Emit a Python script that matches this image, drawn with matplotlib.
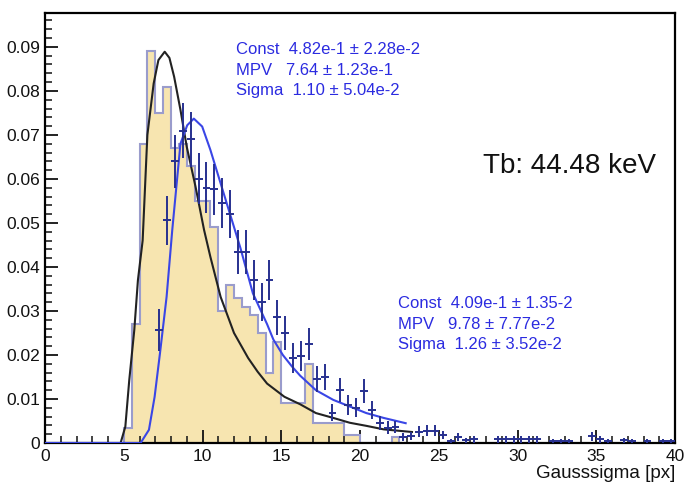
import numpy as np
import matplotlib
matplotlib.use("Agg")
import matplotlib.pyplot as plt

plt.rcParams['font.family'] = ['Liberation Sans', 'DejaVu Sans']

# histogramme (bins de 0.5 a partir de 5.0)
hist_start = 5.0
hist_width = 0.5
hist_vals = [0.0035, 0.027, 0.068, 0.089, 0.075, 0.081, 0.067, 0.068, 0.063,
             0.055, 0.055, 0.049, 0.030, 0.036, 0.033, 0.031, 0.029, 0.025,
             0.016, 0.023, 0.009, 0.009, 0.009, 0.018, 0.0045, 0.0045, 0.0045,
             0.0045, 0.0018, 0.0018, 0.0, 0.0, 0.0, 0.0, 0.0014, 0.0]

# points avec erreurs
pts_x = [7.25, 7.75, 8.25, 8.75, 9.25, 9.75, 10.25, 10.75, 11.25, 11.75,
         12.25, 12.75, 13.25, 13.75, 14.25, 14.75, 15.25, 15.75, 16.25, 16.75,
         17.25, 17.75, 18.25, 18.75, 19.25, 19.75, 20.25, 20.75, 21.25, 21.75,
         22.25, 22.75, 23.25, 23.75, 24.25, 24.75, 25.25, 25.75, 26.25, 26.75,
         27.25, 28.75, 29.25, 29.75, 30.25, 30.75, 31.25, 32.25, 32.75, 33.25,
         34.75, 35.25, 35.75, 36.75, 37.25, 38.25, 39.25, 39.75]
pts_y = [0.0257, 0.0506, 0.064, 0.071, 0.069, 0.060, 0.058, 0.0577, 0.0545, 0.052,
         0.0435, 0.0435, 0.037, 0.032, 0.037, 0.0286, 0.025, 0.0193, 0.0198, 0.0225,
         0.0145, 0.015, 0.0069, 0.012, 0.0086, 0.008, 0.0118, 0.0075, 0.0045, 0.0035,
         0.0036, 0.0014, 0.0015, 0.0026, 0.0028, 0.0028, 0.0018, 0.0005, 0.0014, 0.0006,
         0.0008, 0.0008, 0.0008, 0.0008, 0.0008, 0.0008, 0.0008, 0.0005, 0.0005, 0.0005,
         0.0015, 0.0008, 0.0005, 0.0006, 0.0005, 0.0005, 0.0005, 0.0005]
pts_err = [0.0048, 0.0055, 0.0060, 0.0062, 0.0062, 0.0058, 0.0058, 0.0058, 0.0056, 0.0055,
           0.0050, 0.0050, 0.0046, 0.0043, 0.0046, 0.0040, 0.0038, 0.0034, 0.0034, 0.0036,
           0.0030, 0.0030, 0.0020, 0.0027, 0.0023, 0.0022, 0.0027, 0.0021, 0.0016, 0.0014,
           0.0014, 0.0009, 0.0009, 0.0012, 0.0013, 0.0013, 0.0010, 0.0005, 0.0009, 0.0006,
           0.0007, 0.0007, 0.0007, 0.0007, 0.0007, 0.0007, 0.0007, 0.0005, 0.0005, 0.0005,
           0.0010, 0.0007, 0.0005, 0.0006, 0.0005, 0.0005, 0.0005, 0.0005]

# courbe noire (fit du histogramme)
fit1_x = [0, 4.8, 5.1, 5.35, 5.67, 5.9, 6.2, 6.5, 6.9, 7.2, 7.6, 7.9, 8.2, 8.6,
          9.0, 9.56, 10.1, 10.5, 11.15, 12.0, 12.9, 13.5, 14.1, 15.2, 16.2, 17.2,
          18.3, 19.35, 20.4, 21.5, 22.4, 23.3]
fit1_y = [0, 0, 0.0037, 0.0143, 0.0257, 0.037, 0.046, 0.070, 0.0817, 0.087, 0.0889,
          0.0875, 0.0832, 0.0757, 0.0673, 0.0582, 0.0484, 0.0423, 0.0332, 0.025, 0.0193,
          0.0162, 0.0135, 0.0105, 0.0088, 0.0068, 0.0057, 0.0046, 0.0039, 0.0031,
          0.0028, 0.0025]

# courbe bleue (fit des points)
fit2_x = [0, 6.07, 6.6, 6.96, 7.3, 7.72, 8.08, 8.6, 9.03, 9.45, 9.98, 10.5, 11.15,
          11.8, 12.4, 13.2, 14.1, 14.5, 15.1, 15.7, 16.2, 17.2, 18.3, 19.35, 20.4,
          21.5, 22.9]
fit2_y = [0, 0, 0.003, 0.0105, 0.0204, 0.0332, 0.0484, 0.068, 0.0722, 0.0737, 0.0719,
          0.0666, 0.059, 0.0514, 0.0444, 0.034, 0.027, 0.0235, 0.020, 0.0173, 0.0153,
          0.012, 0.0098, 0.0083, 0.0068, 0.0057, 0.0045]

stats1 = ["Const  4.82e-1 \u00b1 2.28e-2", "MPV   7.64 \u00b1 1.23e-1",
          "Sigma  1.10 \u00b1 5.04e-2"]
stats2 = ["Const  4.09e-1 \u00b1 1.35-2", "MPV   9.78 \u00b1 7.77e-2",
          "Sigma  1.26 \u00b1 3.52e-2"]

W, H = 684, 484
fig = plt.figure(figsize=(W / 100, H / 100), dpi=100)
ax = fig.add_axes([45 / W, 1 - 443 / H, 630 / W, 430 / H])

edges = hist_start + hist_width * np.arange(len(hist_vals) + 1)
ax.stairs(hist_vals, edges, fill=True, color='#f7e5b0', zorder=1)
ax.stairs(hist_vals, edges, color='#9a9ccc', lw=1.5, zorder=2)

ax.plot(fit1_x, fit1_y, color='#222222', lw=1.5, zorder=3)
ax.plot(fit2_x, fit2_y, color='#3a46e6', lw=1.5, zorder=4)

ax.errorbar(pts_x, pts_y, yerr=pts_err, xerr=0.25, fmt='none',
            ecolor='#27308f', elinewidth=1.4, zorder=5)

ax.set_xlim(0, 40)
ax.set_ylim(0, 0.0977)
ax.set_xticks(np.arange(0, 41, 5))
ax.set_xticks(np.arange(0, 41, 1), minor=True)
ax.set_yticks(np.arange(0, 0.091, 0.01))
ax.set_yticks(np.arange(0, 0.097, 0.002), minor=True)
ax.set_yticklabels(['0', '0.01', '0.02', '0.03', '0.04', '0.05', '0.06', '0.07', '0.08', '0.09'])
ax.tick_params(which='both', direction='in', labelsize=12.5, colors='#111111')
ax.tick_params(which='major', length=9.5, width=1.3)
ax.tick_params(which='minor', length=4.8, width=1.1)
ax.tick_params(axis='x', pad=4)
for s in ax.spines.values():
    s.set_linewidth(1.6)

for i, t in enumerate(stats1):
    fig.text(236 / W, 1 - (50 + 20.5 * i) / H, t, color='#2b2be0', fontsize=12,
             va='center', ha='left')
for i, t in enumerate(stats2):
    fig.text(398 / W, 1 - (304 + 20.5 * i) / H, t, color='#2b2be0', fontsize=12,
             va='center', ha='left')

fig.text(483 / W, 1 - 166 / H, "Tb: 44.48 keV", color='#111111', fontsize=20,
         va='center', ha='left')
fig.text(675 / W, 1 - 474 / H, "Gausssigma [px]", color='#111111', fontsize=13.5,
         va='center', ha='right')

fig.savefig("out.png", dpi=100)
